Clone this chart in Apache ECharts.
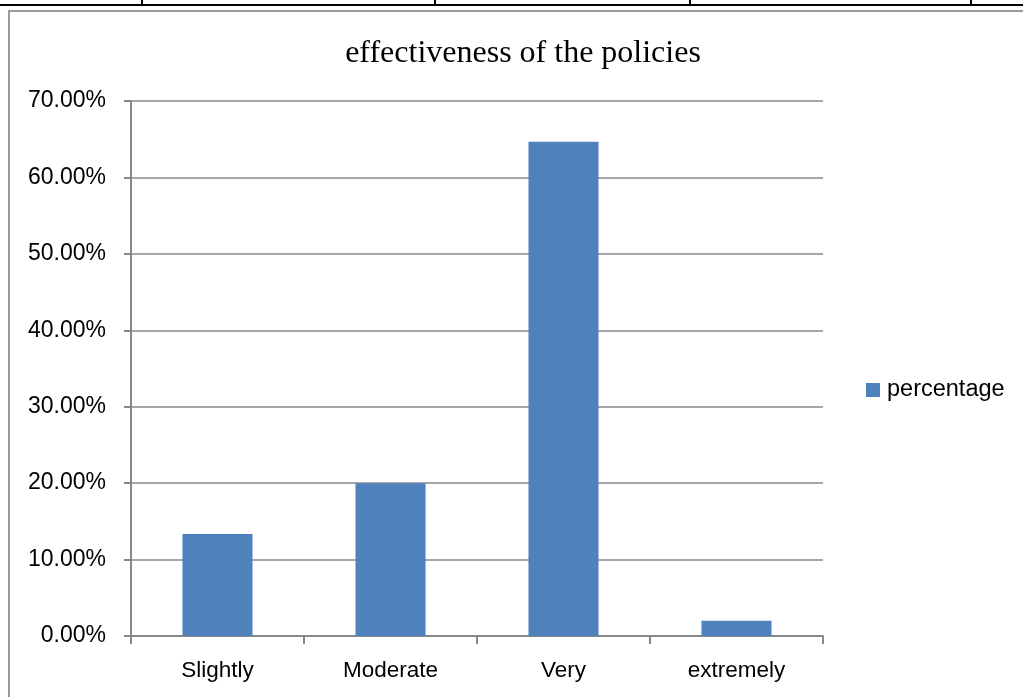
<!DOCTYPE html>
<html><head><meta charset="utf-8">
<script src="https://cdn.jsdelivr.net/npm/echarts@6/dist/echarts.min.js"></script>
<style>html,body{margin:0;padding:0;background:#fff}#c{width:1023px;height:697px}</style>
</head><body><div id="c"></div>
<script>
const categories = ['Slightly', 'Moderate', 'Very', 'extremely'];
const percentage = [13.33, 20.0, 64.67, 2.0];
const yTicks = [0, 10, 20, 30, 40, 50, 60, 70];

const chart = echarts.init(document.getElementById('c'));
const grey = '#888888';
chart.setOption({
  animation: false,
  backgroundColor: '#fff',
  title: {
    text: 'effectiveness of the policies',
    left: 518, top: 33, textAlign: 'center',
    textStyle: {fontFamily: 'Liberation Serif', fontSize: 32, fontWeight: 'normal', color: '#000'}
  },
  legend: {
    data: ['percentage'], orient: 'vertical', left: 861, top: 373,
    itemWidth: 14, itemHeight: 14, itemGap: 6, icon: 'rect',
    textStyle: {fontFamily: 'Liberation Sans', fontSize: 23.5, color: '#000', padding: [0,0,0,2]}
  },
  grid: {left: 131, right: 200, top: 101, bottom: 61, containLabel: false},
  xAxis: {
    type: 'category', data: categories,
    axisLine: {lineStyle: {color: grey, width: 2}},
    axisTick: {show: true, length: 8, lineStyle: {color: grey, width: 2}, alignWithLabel: false},
    axisLabel: {fontFamily: 'Liberation Sans', fontSize: 22.5, color: '#000', margin: 23}
  },
  yAxis: {
    type: 'value', min: yTicks[0], max: yTicks[yTicks.length-1], interval: 10,
    axisLine: {show: true, lineStyle: {color: grey, width: 2}},
    axisTick: {show: true, length: 7, lineStyle: {color: grey, width: 2}},
    splitLine: {lineStyle: {color: grey, width: 1.5}},
    axisLabel: {fontFamily: 'Liberation Sans', fontSize: 23, color: '#000', margin: 25,
      formatter: v => v.toFixed(2) + '%'}
  },
  series: [{
    name: 'percentage', type: 'bar', data: percentage,
    barWidth: '40.5%', itemStyle: {color: '#4f81bd'}
  }],
  graphic: [
    {type: 'rect', shape: {x: 0, y: 4, width: 1023, height: 2}, style: {fill: '#000'}},
    {type: 'rect', shape: {x: 141, y: 0, width: 2, height: 5}, style: {fill: '#000'}},
    {type: 'rect', shape: {x: 434, y: 0, width: 2, height: 5}, style: {fill: '#000'}},
    {type: 'rect', shape: {x: 689, y: 0, width: 2, height: 5}, style: {fill: '#000'}},
    {type: 'rect', shape: {x: 970, y: 0, width: 2, height: 5}, style: {fill: '#000'}},
    {type: 'rect', shape: {x: 8, y: 10, width: 1015, height: 2}, style: {fill: '#9a9a9a'}},
    {type: 'rect', shape: {x: 8, y: 10, width: 2, height: 687}, style: {fill: '#9a9a9a'}}
  ]
});
</script></body></html>
